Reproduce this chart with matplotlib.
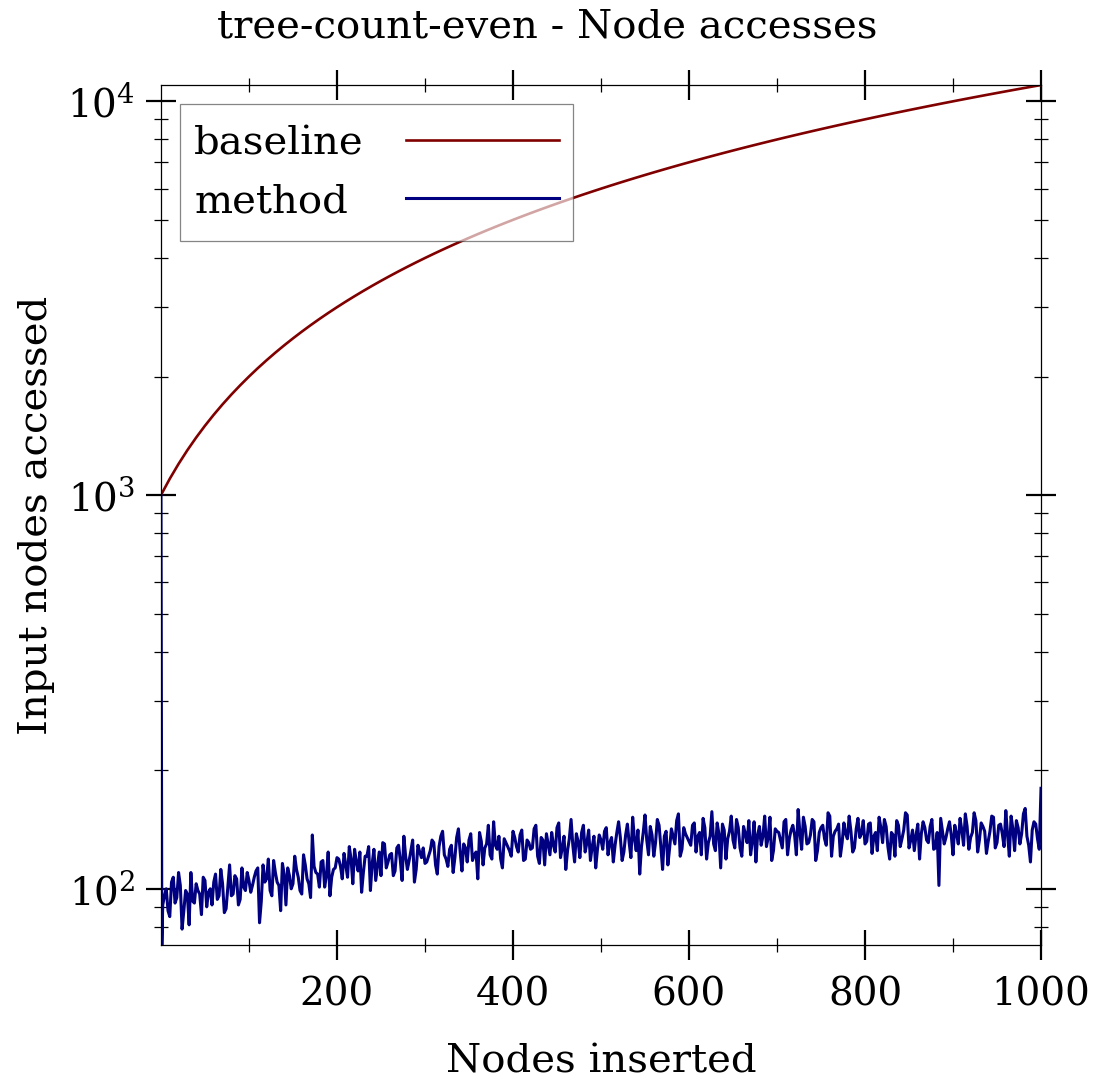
import matplotlib
matplotlib.use("Agg")
import matplotlib.pyplot as plt
import numpy as np
from matplotlib.ticker import FixedLocator, LogLocator, NullFormatter
from matplotlib.transforms import Bbox

plt.rcParams['font.family'] = ['DejaVu Serif']
plt.rcParams['mathtext.fontset'] = 'dejavuserif'

title = "tree-count-even - Node accesses"
xlabel = "Nodes inserted"
ylabel = "Input nodes accessed"

baseline_x = list(range(0, 1001, 10))
baseline_y = [1000, 1100, 1200, 1300, 1400, 1500, 1600, 1700, 1800, 1900,
              2000, 2100, 2200, 2300, 2400, 2500, 2600, 2700, 2800, 2900,
              3000, 3100, 3200, 3300, 3400, 3500, 3600, 3700, 3800, 3900,
              4000, 4100, 4200, 4300, 4400, 4500, 4600, 4700, 4800, 4900,
              5000, 5100, 5200, 5300, 5400, 5500, 5600, 5700, 5800, 5900,
              6000, 6100, 6200, 6300, 6400, 6500, 6600, 6700, 6800, 6900,
              7000, 7100, 7200, 7300, 7400, 7500, 7600, 7700, 7800, 7900,
              8000, 8100, 8200, 8300, 8400, 8500, 8600, 8700, 8800, 8900,
              9000, 9100, 9200, 9300, 9400, 9500, 9600, 9700, 9800, 9900,
              10000, 10100, 10200, 10300, 10400, 10500, 10600, 10700, 10800, 10900,
              11000]

method_start_x = [0, 1]
method_start_y = [1000, 72]
# values at x = 4, 8, ..., 1000
method_y_a = [
    96, 88, 104, 92, 110, 79, 99, 81, 93, 103, 97, 107, 90, 100, 104, 94, 112, 87, 101, 96, 108, 91, 113, 99, 105,
    102, 111, 82, 115, 106, 99, 118, 104, 88, 109, 113, 100, 121, 107, 97, 115, 103, 137, 110, 101, 118, 108, 96, 112, 120,
    114, 123, 107, 119, 126, 111, 98, 121, 128, 116, 105, 124, 131, 113, 122, 108, 127, 118, 136, 112, 125, 104, 129, 120, 116,
    121, 133, 115, 128, 140, 119, 126, 110, 135, 124, 130, 117, 138, 122, 106, 132, 127, 145, 119, 129, 136, 113, 131, 125, 140,
    128, 137, 118, 133, 126, 142, 121, 135, 115, 130, 139, 124, 147, 127, 112, 134, 129, 138, 120, 145, 131, 118, 136, 126, 133,
    140, 122, 135, 129, 148, 118, 137, 131, 152, 125, 109, 139, 133, 144, 121, 150, 128, 136, 115, 142, 130, 155, 126, 138, 132,
    145, 124, 139, 151, 119, 136, 130, 147, 113, 141, 134, 153, 127, 143, 121, 138, 149, 132, 117, 144, 136, 128, 152, 125, 140,
    133, 148, 122, 141, 137, 159, 126, 144, 131, 150, 118, 139, 145, 129, 153, 136, 142, 121, 147, 134, 140, 127, 151, 138, 130,
    146, 123, 139, 152, 131, 144, 119, 137, 149, 128, 141, 154, 133, 125, 146, 138, 143, 131, 150, 127, 102, 140, 135, 148, 122,
    138, 151, 129, 144, 135, 156, 124, 147, 140, 132, 153, 127, 145, 138, 158, 121, 142, 149, 130, 155, 136, 117, 148, 134, 180,
]
# values at x = 2, 6, ..., 998
method_y_b = [
    91, 100, 85, 107, 95, 102, 88, 97, 110, 92, 99, 86, 105, 98, 91, 109, 96, 103, 89, 115, 97, 106, 94, 101, 110,
    98, 107, 113, 93, 104, 119, 96, 110, 102, 116, 91, 108, 103, 112, 99, 122, 106, 95, 114, 109, 117, 101, 124, 107, 113,
    119, 106, 115, 128, 103, 117, 124, 110, 121, 99, 126, 114, 108, 130, 117, 123, 111, 129, 105, 121, 118, 133, 112, 124, 127,
    117, 125, 131, 109, 136, 122, 114, 129, 120, 142, 111, 127, 133, 118, 124, 139, 115, 130, 122, 148, 126, 119, 134, 128, 121,
    135, 124, 141, 119, 131, 127, 145, 116, 133, 138, 122, 129, 143, 120, 136, 125, 150, 117, 132, 139, 124, 141, 128, 113, 137,
    126, 143, 131, 117, 139, 135, 124, 146, 120, 134, 141, 128, 154, 122, 137, 131, 145, 112, 140, 127, 136, 149, 121, 143, 135,
    129, 147, 136, 122, 143, 131, 157, 125, 138, 146, 119, 140, 133, 150, 127, 144, 131, 122, 148, 137, 129, 153, 135, 118, 142,
    139, 127, 150, 134, 145, 122, 139, 152, 130, 137, 148, 125, 143, 134, 156, 121, 140, 146, 131, 138, 153, 124, 142, 135, 149,
    132, 147, 136, 125, 143, 150, 128, 139, 121, 145, 134, 156, 127, 141, 137, 119, 148, 133, 144, 126, 139, 151, 130, 142, 137,
    145, 130, 141, 155, 126, 139, 149, 133, 144, 123, 140, 152, 131, 146, 128, 137, 153, 125, 143, 138, 160, 129, 141, 146, 126,
]
xa = list(range(4, 1001, 4))
xb = list(range(2, 999, 4))
pairs = sorted(list(zip(xa, method_y_a)) + list(zip(xb, method_y_b)))
method_x = method_start_x + [p[0] for p in pairs]
method_vals = method_start_y + [p[1] for p in pairs]

xticks = [200, 400, 600, 800, 1000]
xminor = [100, 300, 500, 700, 900]

fig = plt.figure(figsize=(10.95, 10.79), dpi=100)
ax = fig.add_axes([0.147, 0.1242, 0.8037, 0.797])

ax.plot(baseline_x, baseline_y, color='#800000', lw=1.9, label='baseline')
ax.plot(method_x, method_vals, color='#000080', lw=2.2, label='method')

ax.set_yscale('log')
ax.set_xlim(0, 1000)
ax.set_ylim(72, 11000)
ax.xaxis.set_major_locator(FixedLocator(xticks))
ax.xaxis.set_minor_locator(FixedLocator(xminor))
ax.yaxis.set_major_locator(LogLocator(base=10))
ax.yaxis.set_minor_locator(LogLocator(base=10, subs=np.arange(2, 10)))
ax.yaxis.set_minor_formatter(NullFormatter())

ax.tick_params(which='both', direction='inout', top=True, right=True, labelsize=28)
ax.tick_params(which='major', length=21, width=1.6)
ax.tick_params(which='minor', length=10, width=0.9)
ax.tick_params(axis='x', pad=12)
ax.tick_params(axis='y', pad=8)
for s in ax.spines.values():
    s.set_linewidth(0.9)

fig.suptitle(title, fontsize=29, x=0.5, y=1 - 27 / 1079, va='center')
ax.set_xlabel(xlabel, fontsize=29, labelpad=22)
ax.set_ylabel(ylabel, fontsize=29, labelpad=9)

leg = ax.legend(loc='upper left', fontsize=29, markerfirst=False, fancybox=False,
                handlelength=3.8, framealpha=0.65, edgecolor='#444444',
                bbox_to_anchor=(0.0216, 0.978), borderaxespad=0.0, handletextpad=1.05,
                labelspacing=0.175, borderpad=0.35)
leg.get_frame().set_linewidth(0.9)

# equal-width label areas (text left-aligned, handles lined up) plus vertical padding
try:
    col = leg._legend_handle_box.get_children()[0]
    items = col.get_children()
    tareas = [it.get_children()[0] for it in items]
    origs = [ta.get_bbox for ta in tareas]
    extra = 7.0

    def make_gb(orig):
        def gb(renderer):
            b = orig(renderer)
            w = max(o(renderer).width for o in origs)
            return Bbox.from_bounds(b.x0, b.y0 - extra, w, b.height + 2 * extra)
        return gb

    for ta, o in zip(tareas, origs):
        ta.get_bbox = make_gb(o)
except Exception:
    pass

fig.savefig('out.png', dpi=100)
